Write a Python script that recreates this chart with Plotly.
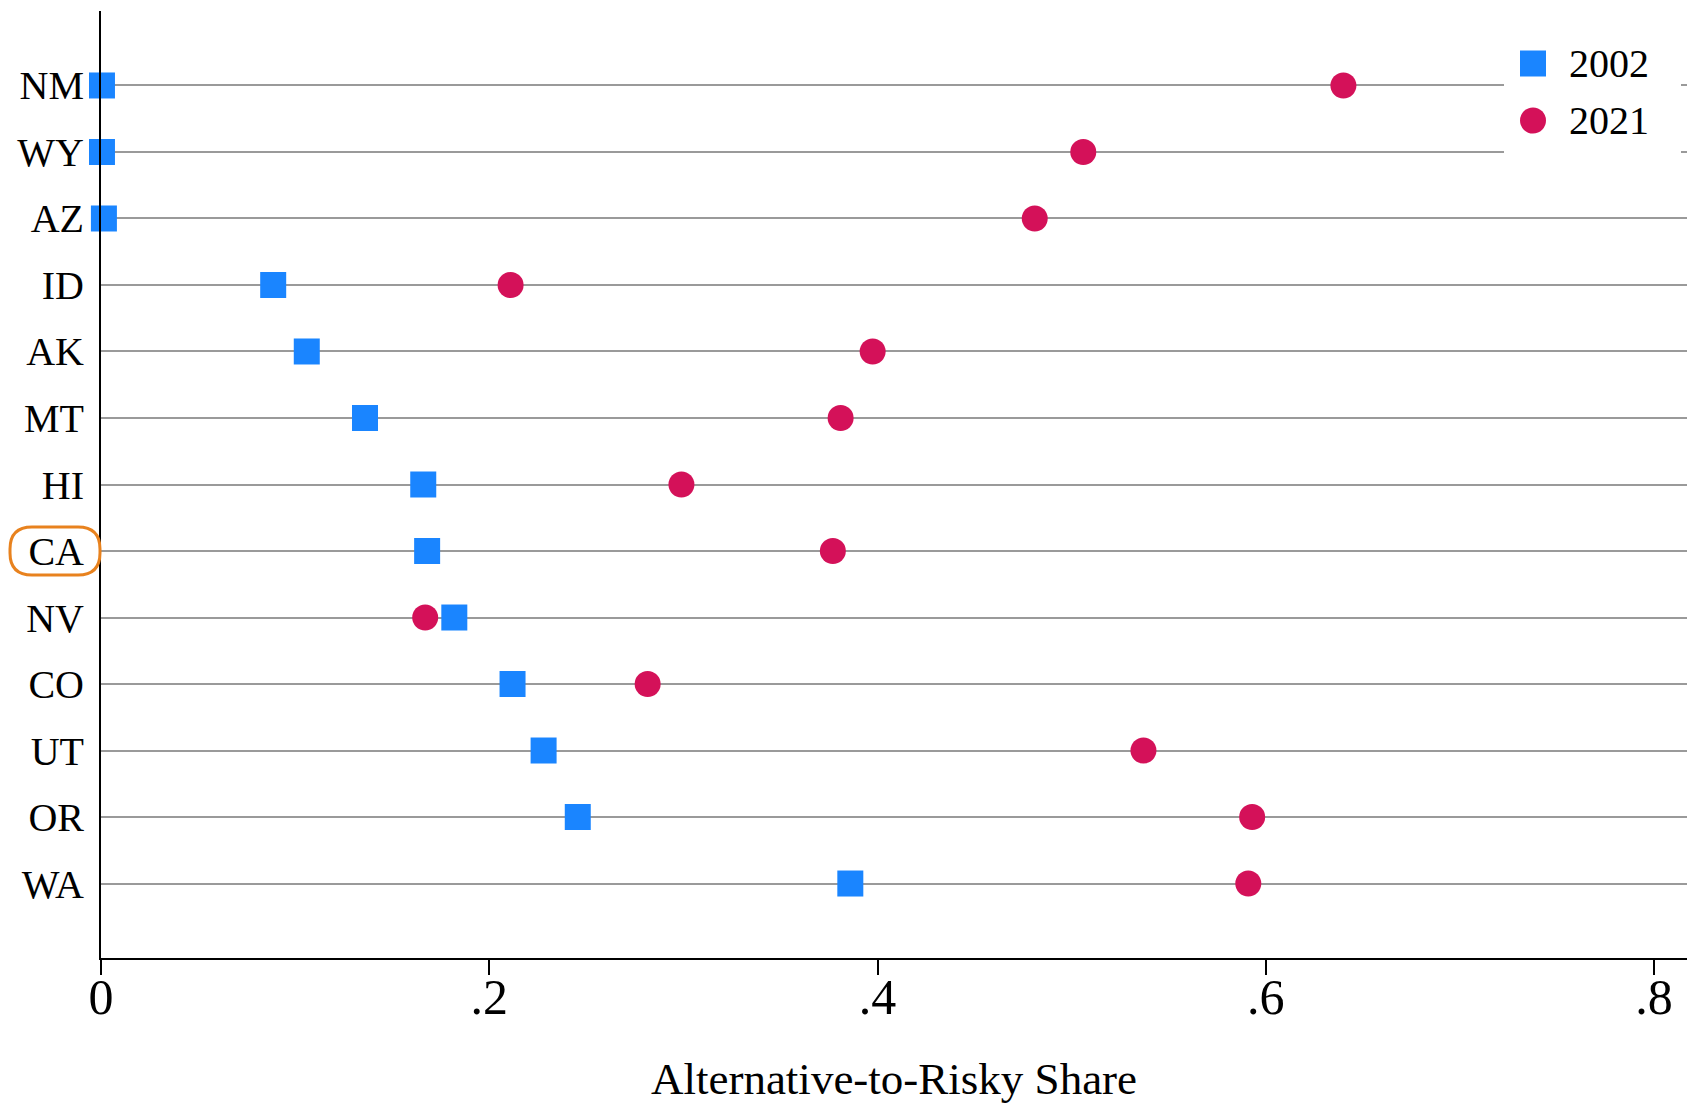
import plotly.graph_objects as go

states = ["WA", "OR", "UT", "CO", "NV", "CA", "HI", "MT", "AK", "ID", "AZ", "WY", "NM"]
share_2002 = [0.386, 0.2456, 0.228, 0.212, 0.182, 0.168, 0.166, 0.136, 0.106, 0.0887, 0.0015, 0.0005, 0.0005]
share_2021 = [0.591, 0.593, 0.537, 0.2816, 0.167, 0.377, 0.299, 0.381, 0.3975, 0.211, 0.481, 0.506, 0.640]
series_names = ["2002", "2021"]
series_colors = ["#1A85FF", "#D41159"]
series_symbols = ["square", "circle"]
x_ticks = [0, 0.2, 0.4, 0.6, 0.8]
x_ticklabels = ["0", ".2", ".4", ".6", ".8"]
highlight_state = "CA"

SERIF = "Liberation Serif, Times New Roman, serif"
MS = 26

fig = go.Figure()
for name, vals, col, sym in zip(series_names, [share_2002, share_2021], series_colors, series_symbols):
    fig.add_trace(go.Scatter(
        x=vals, y=states, mode="markers", name=name,
        marker=dict(symbol=sym, size=MS, color=col, line=dict(width=0)),
        cliponaxis=False, hoverinfo="skip", showlegend=False,
    ))

# figure fills the window exactly (body margin removed via post_script)
W, H = 1687, 1104
L, R, T, B = 101, 0, 11, 146
pw, ph = W - L - R, H - T - B

def px2paper(px, py):
    return (px - L) / pw, (H - B - py) / ph

shapes = []
annotations = []

# custom legend (white background box hiding gridlines)
bx0, by0 = px2paper(1504, 166)
bx1, by1 = px2paper(1681, 34)
shapes.append(dict(type="rect", xref="paper", yref="paper", x0=bx0, x1=bx1, y0=by0, y1=by1,
                   fillcolor="white", line=dict(width=0), layer="above"))
legend_rows_py = [63.5, 120.5]
for name, col, sym, py in zip(series_names, series_colors, series_symbols, legend_rows_py):
    sx, sy = px2paper(1533, py)
    h = MS / 2
    shapes.append(dict(type="rect" if sym == "square" else "circle",
                       xref="paper", yref="paper", xsizemode="pixel", ysizemode="pixel",
                       xanchor=sx, yanchor=sy, x0=-h, x1=h, y0=-h, y1=h,
                       fillcolor=col, line=dict(width=0), layer="above"))
    tx, ty = px2paper(1567, py)
    annotations.append(dict(xref="paper", yref="paper", x=tx, y=ty, xanchor="left", yanchor="middle",
                            text=name, showarrow=False, font=dict(family=SERIF, size=40, color="black")))

# orange rounded highlight around the CA label
ci = states.index(highlight_state)
x0, x1, hh, r = -91, -1, 24, 22
path = (f"M {x0 + r},{-hh} L {x1 - r},{-hh} Q {x1},{-hh} {x1},{-hh + r} L {x1},{hh - r} "
        f"Q {x1},{hh} {x1 - r},{hh} L {x0 + r},{hh} Q {x0},{hh} {x0},{hh - r} L {x0},{-hh + r} "
        f"Q {x0},{-hh} {x0 + r},{-hh} Z")
shapes.append(dict(type="path", xref="paper", yref="y", xsizemode="pixel", ysizemode="pixel",
                   xanchor=0, yanchor=ci, path=path, line=dict(color="#E8821E", width=3),
                   fillcolor="rgba(0,0,0,0)", layer="above"))

fig.update_layout(
    width=W, height=H,
    margin=dict(l=L, r=R, t=T, b=B, pad=0),
    paper_bgcolor="white", plot_bgcolor="white",
    showlegend=False,
    font=dict(family=SERIF, color="black"),
    shapes=shapes, annotations=annotations,
    xaxis=dict(
        range=[0, 0.817], tickvals=x_ticks, ticktext=x_ticklabels,
        showgrid=False, zeroline=False, showline=True, linecolor="black", linewidth=2,
        ticks="outside", ticklen=15, tickwidth=2, tickcolor="black",
        tickfont=dict(family=SERIF, size=50, color="black"),
        ticklabelstandoff=-21,
        title=dict(text="Alternative-to-Risky Share", font=dict(family=SERIF, size=45, color="black"), standoff=41),
        automargin=False,
    ),
    yaxis=dict(
        type="category", categoryorder="array", categoryarray=states,
        range=[-1.12, len(states) - 1 + 1.12],
        showgrid=True, gridcolor="#9a9a9a", gridwidth=2,
        zeroline=False, showline=True, linecolor="black", linewidth=2,
        ticks="", ticklabelstandoff=7,
        tickfont=dict(family=SERIF, size=40, color="black"),
        automargin=False,
    ),
)

fig.write_html(
    "out.html",
    config={"displayModeBar": False, "staticPlot": True},
    post_script="document.body.style.margin='0';document.body.style.overflow='hidden';",
)
